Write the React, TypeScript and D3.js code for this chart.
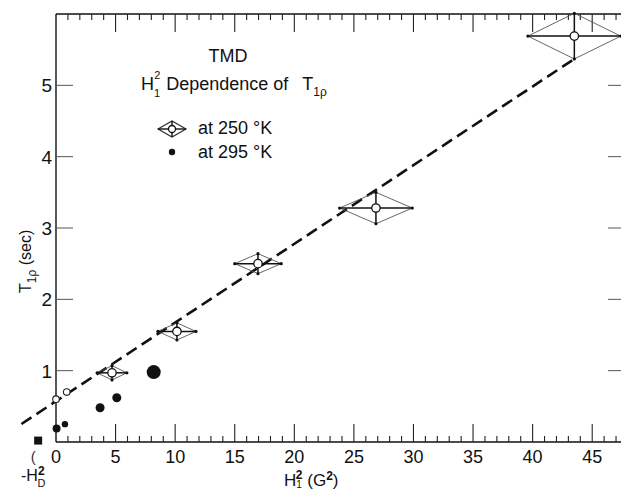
import React, { useEffect, useRef } from "react";
import * as d3 from "d3";

// 250 K points with diamond error bars
const diamondX = [4.7, 10.15, 16.95, 26.85, 43.5];
const diamondY = [0.97, 1.55, 2.5, 3.28, 5.69];
const diamondDx = [1.25, 1.6, 1.95, 3.05, 3.9];
const diamondDy = [0.1, 0.12, 0.14, 0.22, 0.32];

// 250 K small open circles near zero
const openX = [0.0, 0.9];
const openY = [0.6, 0.7];

// 295 K filled dots
const dotX = [0.05, 0.75, 3.7, 5.1, 8.2];
const dotY = [0.19, 0.25, 0.48, 0.62, 0.98];

// -H_D^2 marker
const squareX = [-1.5];
const squareY = [0.02];

// dashed fit line
const fitX = [-2.9, 43.4];
const fitIntercept = 0.572;
const fitSlope = 0.1103;

const xTickLabels = [0, 5, 10, 15, 20, 25, 30, 35, 40, 45];
const yTickLabels = [1, 2, 3, 4, 5];

const dotRadius = [4, 3.2, 4.5, 4.5, 7];

const App = () => {
  const svgRef = useRef(null);

  useEffect(() => {
    const W = 621;
    const H = 489;
    const svg = d3.select(svgRef.current);
    svg.selectAll("*").remove();
    svg.attr("width", W).attr("height", H);

    const x = d3.scaleLinear().domain([0, 47.5]).range([56, 622]);
    const y = d3.scaleLinear().domain([0, 6]).range([442, 14]);
    const font = "'Liberation Sans', Arial, sans-serif";

    svg.append("rect").attr("width", W).attr("height", H).attr("fill", "#fff");

    // frame (right edge falls just outside the picture)
    const x0 = x(0), x1 = x(47.5), y0 = y(0), y1 = y(6);
    svg.append("line").attr("x1", x0).attr("x2", x0).attr("y1", y1).attr("y2", y0)
      .attr("stroke", "#111").attr("stroke-width", 1.4);
    svg.append("line").attr("x1", x0).attr("x2", x1).attr("y1", y0).attr("y2", y0)
      .attr("stroke", "#111").attr("stroke-width", 1.4);
    svg.append("line").attr("x1", x0).attr("x2", x1).attr("y1", y1).attr("y2", y1)
      .attr("stroke", "#111").attr("stroke-width", 1.4);

    // x minor/major ticks (bottom pointing up, top pointing down)
    const xt = d3.range(1, 48);
    const tickLen = (d) => (d % 5 === 0 ? 18 : 6);
    svg.append("g").selectAll("line").data(xt).enter().append("line")
      .attr("x1", (d) => x(d)).attr("x2", (d) => x(d))
      .attr("y1", y0).attr("y2", (d) => y0 - tickLen(d))
      .attr("stroke", "#222").attr("stroke-width", 1.1);
    svg.append("g").selectAll("line").data(xt).enter().append("line")
      .attr("x1", (d) => x(d)).attr("x2", (d) => x(d))
      .attr("y1", y1).attr("y2", (d) => y1 + tickLen(d))
      .attr("stroke", "#222").attr("stroke-width", 1.1);

    // y ticks left and right
    svg.append("g").selectAll("line").data(yTickLabels).enter().append("line")
      .attr("x1", x0).attr("x2", x0 + 17)
      .attr("y1", (d) => y(d)).attr("y2", (d) => y(d))
      .attr("stroke", "#555").attr("stroke-width", 1);
    svg.append("g").selectAll("line").data(yTickLabels).enter().append("line")
      .attr("x1", x1 - 14).attr("x2", x1)
      .attr("y1", (d) => y(d)).attr("y2", (d) => y(d))
      .attr("stroke", "#555").attr("stroke-width", 1);

    // tick labels
    svg.append("g").selectAll("text").data(xTickLabels).enter().append("text")
      .attr("x", (d) => x(d)).attr("y", y0 + 21)
      .attr("text-anchor", "middle").attr("font-family", font).attr("font-size", 18)
      .attr("fill", "#111").text((d) => d);
    svg.append("g").selectAll("text").data(yTickLabels).enter().append("text")
      .attr("x", x0 - 4).attr("y", (d) => y(d)).attr("dy", "0.36em")
      .attr("text-anchor", "end").attr("font-family", font).attr("font-size", 19)
      .attr("fill", "#111").text((d) => d);

    // -H_D^2 label
    svg.append("text").attr("x", x(-1.9)).attr("y", y0 + 20)
      .attr("text-anchor", "middle").attr("font-family", font).attr("font-size", 15)
      .attr("fill", "#333").text("(");
    const hd = svg.append("text").attr("x", 21).attr("y", 481)
      .attr("font-family", font).attr("font-size", 16).attr("fill", "#111");
    hd.append("tspan").text("-H");
    hd.append("tspan").attr("font-size", 12).attr("dy", -6).attr("font-weight", "bold").text("2");
    hd.append("tspan").attr("font-size", 11).attr("dx", -7).attr("dy", 12).text("D");

    // x axis label
    const xl = svg.append("text").attr("x", 284).attr("y", 486)
      .attr("font-family", font).attr("font-size", 17).attr("fill", "#111");
    xl.append("tspan").text("H");
    xl.append("tspan").attr("font-size", 10).attr("dy", 2).text("1");
    xl.append("tspan").attr("font-size", 12).attr("dx", -6).attr("dy", -9).attr("font-weight", "bold").text("2");
    xl.append("tspan").attr("dy", 7).text(" (G");
    xl.append("tspan").attr("font-size", 12).attr("dy", -6).attr("font-weight", "bold").text("2");
    xl.append("tspan").attr("dy", 6).text(")");

    // y axis label
    const yl = svg.append("text").attr("transform", "translate(31,293) rotate(-90)")
      .attr("font-family", font).attr("font-size", 16).attr("fill", "#111");
    yl.append("tspan").text("T");
    yl.append("tspan").attr("font-size", 12).attr("dy", 5).text("1ρ");
    yl.append("tspan").attr("dy", -5).text(" (sec)");

    // title
    svg.append("text").attr("x", 228).attr("y", 62).attr("text-anchor", "middle")
      .attr("font-family", font).attr("font-size", 18).attr("fill", "#111").text("TMD");
    const t2 = svg.append("text").attr("x", 141).attr("y", 90)
      .attr("font-family", font).attr("font-size", 18).attr("fill", "#111");
    t2.append("tspan").text("H");
    t2.append("tspan").attr("font-size", 11).attr("dy", 7).text("1");
    t2.append("tspan").attr("font-size", 11).attr("dx", -6).attr("dy", -18).text("2");
    t2.append("tspan").attr("dx", 6).attr("dy", 11).text("Dependence of");
    t2.append("tspan").attr("dx", 14).text("T");
    t2.append("tspan").attr("font-size", 12).attr("dy", 6).text("1ρ");

    // legend
    const lg = svg.append("g").attr("transform", "translate(172,129)");
    lg.append("polygon").attr("points", "-14,0 0,-8 14,0 0,8")
      .attr("fill", "none").attr("stroke", "#333").attr("stroke-width", 1.2);
    lg.append("line").attr("x1", -14).attr("x2", 14).attr("stroke", "#111").attr("stroke-width", 1.4);
    lg.append("line").attr("y1", -8).attr("y2", 8).attr("stroke", "#111").attr("stroke-width", 1.4);
    lg.append("circle").attr("r", 3.5).attr("fill", "#fff").attr("stroke", "#111").attr("stroke-width", 1.3);
    svg.append("text").attr("x", 198).attr("y", 134).attr("font-family", font)
      .attr("font-size", 18).attr("fill", "#111").text("at 250 °K");
    svg.append("circle").attr("cx", 172).attr("cy", 152).attr("r", 3.2).attr("fill", "#111");
    svg.append("text").attr("x", 198).attr("y", 158).attr("font-family", font)
      .attr("font-size", 18).attr("fill", "#111").text("at 295 °K");

    // dashed fit line
    const fitLine = d3.line()
      .x((d) => x(d))
      .y((d) => y(fitIntercept + fitSlope * d));
    svg.append("path").attr("d", fitLine(fitX)).attr("fill", "none")
      .attr("stroke", "#111").attr("stroke-width", 2.6).attr("stroke-dasharray", "12,6");

    // diamonds
    const dg = svg.append("g").selectAll("g").data(diamondX).enter().append("g");
    dg.append("polygon")
      .attr("points", (d, i) => [
        [x(d - diamondDx[i]), y(diamondY[i])],
        [x(d), y(diamondY[i] + diamondDy[i])],
        [x(d + diamondDx[i]), y(diamondY[i])],
        [x(d), y(diamondY[i] - diamondDy[i])],
      ].map((p) => p.join(",")).join(" "))
      .attr("fill", "none").attr("stroke", "#555").attr("stroke-width", 0.9);
    dg.append("line")
      .attr("x1", (d, i) => x(d - diamondDx[i])).attr("x2", (d, i) => x(d + diamondDx[i]))
      .attr("y1", (d, i) => y(diamondY[i])).attr("y2", (d, i) => y(diamondY[i]))
      .attr("stroke", "#111").attr("stroke-width", 1.5);
    dg.append("line")
      .attr("x1", (d) => x(d)).attr("x2", (d) => x(d))
      .attr("y1", (d, i) => y(diamondY[i] - diamondDy[i])).attr("y2", (d, i) => y(diamondY[i] + diamondDy[i]))
      .attr("stroke", "#111").attr("stroke-width", 1.5);
    const ends = [];
    diamondX.forEach((d, i) => {
      ends.push([d - diamondDx[i], diamondY[i]], [d + diamondDx[i], diamondY[i]],
        [d, diamondY[i] - diamondDy[i]], [d, diamondY[i] + diamondDy[i]]);
    });
    svg.append("g").selectAll("circle").data(ends).enter().append("circle")
      .attr("cx", (d) => x(d[0])).attr("cy", (d) => y(d[1])).attr("r", 1.6).attr("fill", "#111");
    dg.append("circle")
      .attr("cx", (d) => x(d)).attr("cy", (d, i) => y(diamondY[i]))
      .attr("r", 4.2).attr("fill", "#fff").attr("stroke", "#111").attr("stroke-width", 1.3);

    // small open circles
    svg.append("g").selectAll("circle").data(openX).enter().append("circle")
      .attr("cx", (d) => x(d)).attr("cy", (d, i) => y(openY[i]))
      .attr("r", 3.3).attr("fill", "#fff").attr("stroke", "#222").attr("stroke-width", 1.1);

    // 295 K dots
    svg.append("g").selectAll("circle").data(dotX).enter().append("circle")
      .attr("cx", (d) => x(d)).attr("cy", (d, i) => y(dotY[i]))
      .attr("r", (d, i) => dotRadius[i]).attr("fill", "#111");

    // square
    svg.append("g").selectAll("rect").data(squareX).enter().append("rect")
      .attr("x", (d) => x(d) - 4).attr("y", (d, i) => y(squareY[i]) - 4)
      .attr("width", 8).attr("height", 8).attr("fill", "#111");
  }, []);

  return (
    <div style={{ position: "absolute", left: 0, top: 0 }}>
      <svg ref={svgRef} style={{ display: "block" }}></svg>
    </div>
  );
};

export default App;
